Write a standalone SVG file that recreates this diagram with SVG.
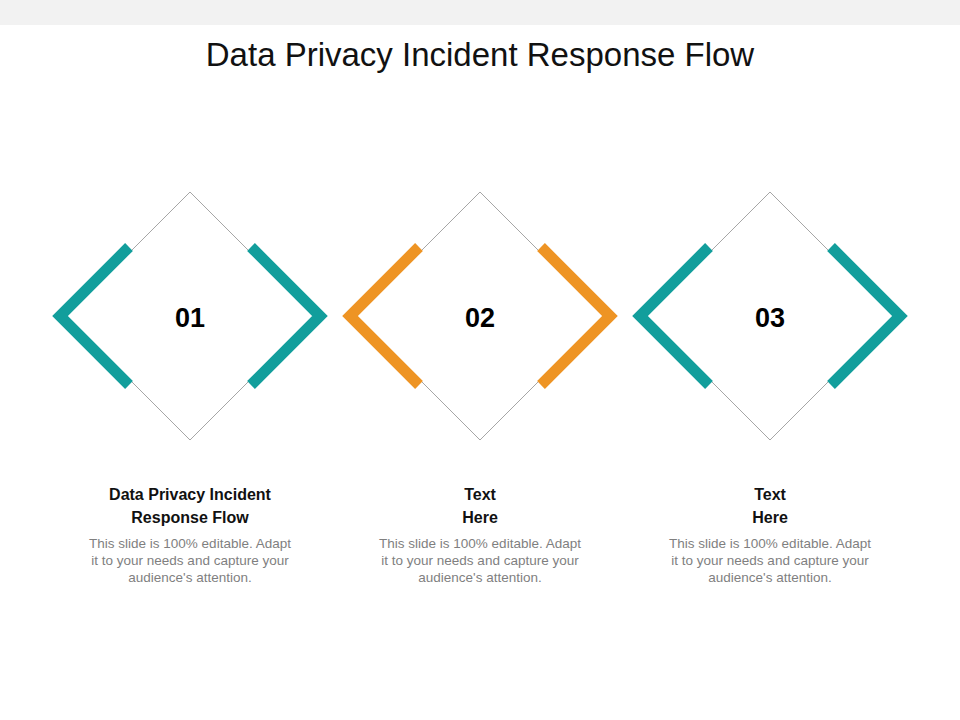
<svg xmlns="http://www.w3.org/2000/svg" width="960" height="720" viewBox="0 0 960 720">
<style>
.d{fill:#fff;stroke:#A6A6A6;stroke-width:1}
.b{fill:none;stroke-width:11;stroke-linejoin:miter;stroke-linecap:butt}
.t{stroke:#129E9C}.o{stroke:#EE9424}
.num{font-family:"Liberation Sans",Arial,sans-serif;font-weight:bold;font-size:27px;fill:#000;text-anchor:middle}
.h{font-family:"Liberation Sans",Arial,sans-serif;font-weight:bold;font-size:16px;fill:#111;text-anchor:middle}
.p{font-family:"Liberation Sans",Arial,sans-serif;font-size:13.5px;fill:#7F7F7F;text-anchor:middle}
</style>
<rect width="960" height="720" fill="#fff"/>
<rect width="960" height="25" fill="#F2F2F2"/>
<text x="480" y="66" font-family="Liberation Sans,Arial,sans-serif" font-size="33" fill="#111" text-anchor="middle">Data Privacy Incident Response Flow</text>
<g id="node1">
<path class="d" d="M190 192L314 316L190 440L66 316Z"/>
<path class="b t" d="M129 247L60 316L129 385"/>
<path class="b t" d="M251 247L320 316L251 385"/>
<text class="num" x="190" y="327">01</text>
<text class="h" x="190" y="500">Data Privacy Incident</text>
<text class="h" x="190" y="523">Response Flow</text>
<text class="p" x="190" y="548">This slide is 100% editable. Adapt</text>
<text class="p" x="190" y="565">it to your needs and capture your</text>
<text class="p" x="190" y="582">audience's attention.</text>
</g>
<g id="node2">
<path class="d" d="M480 192L604 316L480 440L356 316Z"/>
<path class="b o" d="M419 247L350 316L419 385"/>
<path class="b o" d="M541 247L610 316L541 385"/>
<text class="num" x="480" y="327">02</text>
<text class="h" x="480" y="500">Text</text>
<text class="h" x="480" y="523">Here</text>
<text class="p" x="480" y="548">This slide is 100% editable. Adapt</text>
<text class="p" x="480" y="565">it to your needs and capture your</text>
<text class="p" x="480" y="582">audience's attention.</text>
</g>
<g id="node3">
<path class="d" d="M770 192L894 316L770 440L646 316Z"/>
<path class="b t" d="M709 247L640 316L709 385"/>
<path class="b t" d="M831 247L900 316L831 385"/>
<text class="num" x="770" y="327">03</text>
<text class="h" x="770" y="500">Text</text>
<text class="h" x="770" y="523">Here</text>
<text class="p" x="770" y="548">This slide is 100% editable. Adapt</text>
<text class="p" x="770" y="565">it to your needs and capture your</text>
<text class="p" x="770" y="582">audience's attention.</text>
</g>
<g id="connectors"/>
</svg>
